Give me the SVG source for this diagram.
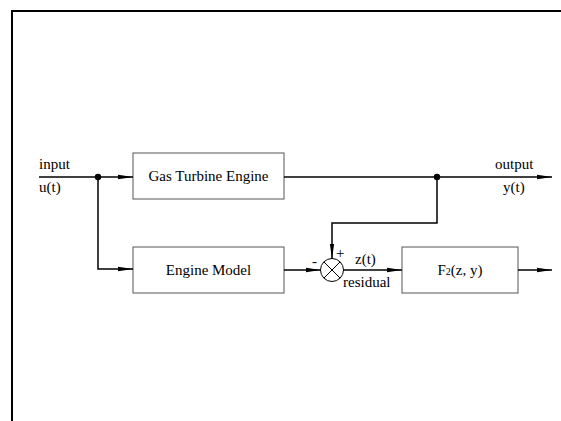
<svg xmlns="http://www.w3.org/2000/svg" width="561" height="421" viewBox="0 0 561 421">
<defs>
<style>
.box{fill:#fff;stroke:#555;stroke-width:1}
.ln{fill:none;stroke:#000;stroke-width:1.5}
text{font-family:"Liberation Serif","Times New Roman",serif;font-size:15px;fill:#000}
.c{text-anchor:middle}
</style>
<marker id="ah" markerWidth="15" markerHeight="7" refX="15" refY="3.5" orient="auto" markerUnits="userSpaceOnUse">
<path d="M0,1.3 L15,3.5 L0,5.7 Z" fill="#000"/>
</marker>
</defs>
<rect width="561" height="421" fill="#fff"/>
<path d="M12,421 V11 H561" fill="none" stroke="#000" stroke-width="2"/>
<g id="gas-turbine">
<rect class="box" x="133" y="153" width="151" height="46"/>
<text class="c" x="208.5" y="181">Gas Turbine Engine</text>
</g>
<g id="engine-model">
<rect class="box" x="133" y="247" width="151" height="46"/>
<text class="c" x="208.5" y="275">Engine Model</text>
</g>
<g id="f2">
<rect class="box" x="402" y="247" width="116" height="46"/>
<text class="c" x="460" y="275">F<tspan font-size="10">2</tspan>(z, y)</text>
</g>
<g id="sum">
<circle cx="332" cy="270" r="11.5" fill="#fff" stroke="#000" stroke-width="1"/>
<path d="M323.9,261.9 L340.1,278.1 M340.1,261.9 L323.9,278.1" stroke="#000" stroke-width="1"/>
<text x="312" y="266">-</text>
<text x="336" y="258" font-size="11">+</text>
</g>
<g id="connectors">
<line class="ln" x1="39" y1="177" x2="133" y2="177" marker-end="url(#ah)"/>
<polyline class="ln" points="98,177 98,269 133,269" marker-end="url(#ah)"/>
<line class="ln" x1="284" y1="177" x2="552" y2="177" marker-end="url(#ah)"/>
<polyline class="ln" points="437,177 437,223 332,223 332,258.5" marker-end="url(#ah)"/>
<line class="ln" x1="284" y1="270" x2="320.5" y2="270" marker-end="url(#ah)"/>
<line class="ln" x1="343.5" y1="270" x2="402" y2="270" marker-end="url(#ah)"/>
<line class="ln" x1="518" y1="270" x2="552" y2="270" marker-end="url(#ah)"/>
<circle cx="98" cy="177" r="3.2" fill="#000"/>
<circle cx="437" cy="177" r="3.2" fill="#000"/>
</g>
<g id="labels">
<text x="39" y="169">input</text>
<text x="39" y="192">u(t)</text>
<text x="495" y="169">output</text>
<text x="503" y="192">y(t)</text>
<text x="355" y="264">z(t)</text>
<text x="343" y="287">residual</text>
</g>
</svg>
